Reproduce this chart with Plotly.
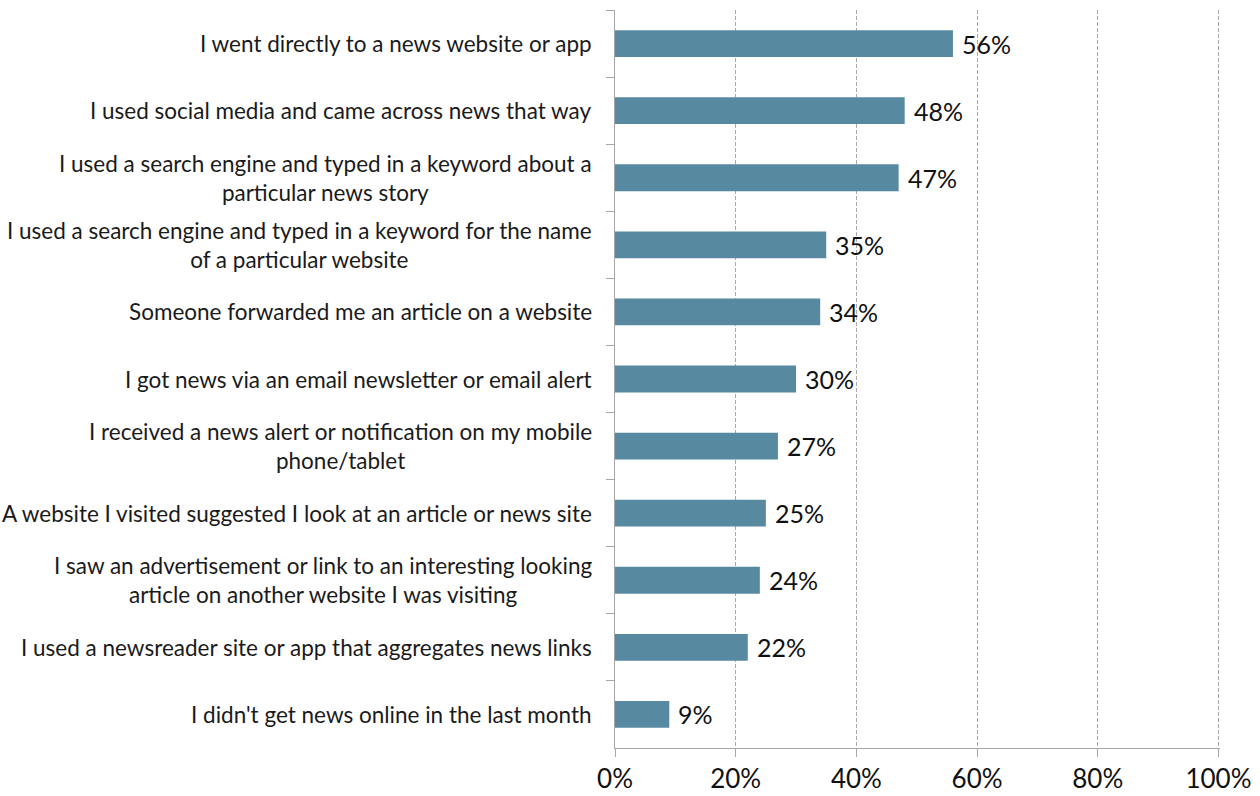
import plotly.graph_objects as go

categories = [
    "I went directly to a news website or app",
    "I used social media and came across news that way",
    "I used a search engine and typed in a keyword about a<br>particular news story",
    "I used a search engine and typed in a keyword for the name<br>of a particular website",
    "Someone forwarded me an article on a website",
    "I got news via an email newsletter or email alert",
    "I received a news alert or notification on my mobile<br>phone/tablet",
    "A website I visited suggested I look at an article or news site",
    "I saw an advertisement or link to an interesting looking<br>article on another website I was visiting",
    "I used a newsreader site or app that aggregates news links",
    "I didn't get news online in the last month",
]
values = [56, 48, 47, 35, 34, 30, 27, 25, 24, 22, 9]
x_ticks = [0, 20, 40, 60, 80, 100]
x_tick_labels = ["0%", "20%", "40%", "60%", "80%", "100%"]

FONT = "Lato"
BAR_COLOR = "#578aa0"
AXIS_COLOR = "#a6a6a6"

fig = go.Figure(
    go.Bar(
        x=values,
        y=categories,
        orientation="h",
        marker=dict(color=BAR_COLOR, line=dict(width=0)),
        width=0.4,
        hoverinfo="skip",
    )
)

annotations = []
for cat, v in zip(categories, values):
    # category label, centered lines, right edge next to the axis
    annotations.append(dict(
        x=0, y=cat, xref="x", yref="y", text=cat, showarrow=False,
        xanchor="right", yanchor="middle", align="center", xshift=-21,
        font=dict(family=FONT, size=22.5, color="#1a1a1a"),
    ))
    # value label beside the bar
    annotations.append(dict(
        x=v, y=cat, xref="x", yref="y", text=f"{v}%", showarrow=False,
        xanchor="left", yanchor="middle", xshift=7,
        font=dict(family=FONT, size=25, color="#111111"),
    ))

fig.update_layout(
    width=1260, height=796,
    margin=dict(l=615, r=40, t=10, b=48, autoexpand=False),
    paper_bgcolor="white", plot_bgcolor="white",
    showlegend=False,
    bargap=0.6,
    annotations=annotations,
    xaxis=dict(
        range=[0, 100.25], tickvals=x_ticks, ticktext=x_tick_labels,
        showgrid=True, gridcolor="#a8a8a8", griddash="4px,2px", gridwidth=1,
        showline=True, linecolor=AXIS_COLOR, linewidth=1.3,
        ticks="outside", ticklen=8, tickcolor=AXIS_COLOR, tickwidth=1.3,
        tickfont=dict(family=FONT, size=26, color="#111111"),
        zeroline=False, fixedrange=True, automargin=False,
    ),
    yaxis=dict(
        type="category", autorange="reversed",
        categoryorder="array", categoryarray=categories,
        showticklabels=False, showgrid=False,
        showline=True, linecolor=AXIS_COLOR, linewidth=1.3,
        ticks="outside", ticklen=8, tickcolor=AXIS_COLOR, tickwidth=1.3,
        tickson="boundaries", zeroline=False, fixedrange=True,
        automargin=False,
    ),
)

fig.write_html("out.html")
